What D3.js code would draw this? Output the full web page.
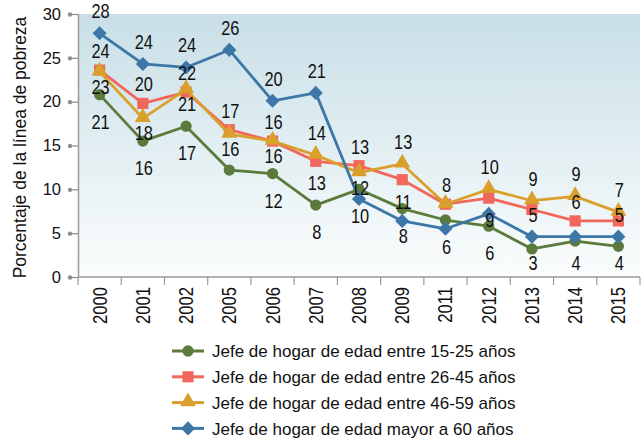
<!DOCTYPE html>
<html>
<head>
<meta charset="utf-8">
<script src="https://cdn.jsdelivr.net/npm/d3@7"></script>
<style>
  body { margin: 0; background: #fff; }
  text { font-family: "Liberation Sans", Arial, sans-serif; fill: #111; }
</style>
</head>
<body>
<div id="chart"></div>
<script>
// categories (survey years)
const years = ["2000","2001","2002","2005","2006","2007","2008","2009","2011","2012","2013","2014","2015"]

// series values (% under poverty line)
const age15_25 = [20.8, 15.5, 17.2, 12.2, 11.8, 8.2, 10.0, 7.8, 6.5, 5.8, 3.2, 4.1, 3.5]
const age26_45 = [23.6, 19.8, 21.1, 16.8, 15.5, 13.2, 12.7, 11.1, 8.3, 9.0, 7.7, 6.4, 6.4]
const age46_59 = [23.4, 18.1, 21.4, 16.3, 15.5, 13.9, 11.9, 12.9, 8.3, 10.0, 8.7, 9.2, 7.4]
const age60up  = [27.8, 24.3, 23.9, 25.9, 20.1, 21.0, 8.9, 6.4, 5.5, 7.2, 4.6, 4.6, 4.6]

// data labels as printed on the chart (null = not shown)
const lbl15_25 = ["21","16","17",null,"12","8","10","8","6","6","3","4","4"]
const lbl26_45 = ["24","20","22","17","16","13","13","11","8","9",null,"6",null]
const lbl46_59 = ["23","18","21","16","16","14","12","13",null,"10","9","9","7"]
const lbl60up  = ["28","24","24","26","20","21",null,null,null,null,"5",null,"5"]

// which side of the marker each label sits (a = above, b = below)
const side15_25 = "bbbbbbbbbbbbb".split("")
const side26_45 = "aaaaabababaaa".split("")
const side46_59 = "bbbbbabaaaaaa".split("")
const side60up  = "aaaaaaaaaaaaa".split("")

const yTicks = [0, 5, 10, 15, 20, 25, 30]
const names = [
  "Jefe de hogar de edad entre 15-25 años",
  "Jefe de hogar de edad entre 26-45 años",
  "Jefe de hogar de edad entre 46-59 años",
  "Jefe de hogar de edad mayor a 60 años"
]

const series = [
  { name: names[0], values: age15_25, labels: lbl15_25, sides: side15_25, color: "#5b7b3d", shape: "circle",   off: { a: -20, b: 27 } },
  { name: names[1], values: age26_45, labels: lbl26_45, sides: side26_45, color: "#f2675c", shape: "square",   off: { a: -19, b: 22 } },
  { name: names[2], values: age46_59, labels: lbl46_59, sides: side46_59, color: "#daa02c", shape: "triangle", off: { a: -22, b: 15 } },
  { name: names[3], values: age60up,  labels: lbl60up,  sides: side60up,  color: "#3c77a8", shape: "diamond",  off: { a: -22, b: 22 } }
]

const config = {
  width: 642,
  height: 441,
  margin: { top: 14, right: 2, bottom: 164, left: 78 }
}
const { width, height, margin } = config
const w = width - margin.left - margin.right
const h = height - margin.top - margin.bottom

const x = d3.scaleBand().domain(years).range([0, w])
const y = d3.scaleLinear().domain([0, 30]).range([h, 0])
const cx = d => x(d) + x.bandwidth() / 2

const svg = d3.select("#chart").append("svg")
  .attr("width", width)
  .attr("height", height)

// plot background gradient
const grad = svg.append("defs").append("linearGradient")
  .attr("id", "bg").attr("x1", 0).attr("y1", 0).attr("x2", 0).attr("y2", 1)
grad.append("stop").attr("offset", "0%").attr("stop-color", "#c8dfe7")
grad.append("stop").attr("offset", "100%").attr("stop-color", "#fbfdfd")

const g = svg.append("g")
  .attr("transform", `translate(${margin.left},${margin.top})`)

g.append("rect")
  .attr("width", w).attr("height", h)
  .attr("fill", "url(#bg)")

// y axis: dotted-end ticks
const yAxis = g.append("g")
  .call(d3.axisLeft(y).tickValues(yTicks).tickSize(8).tickPadding(9).tickSizeOuter(0))
yAxis.select(".domain").attr("stroke", "#9a9a9a").attr("stroke-width", 1.5)
yAxis.selectAll(".tick line").attr("stroke", "#8e8e8e").attr("stroke-width", 1.2)
yAxis.selectAll(".tick").append("circle")
  .attr("cx", -8).attr("r", 2.2).attr("fill", "#8e8e8e")
yAxis.selectAll(".tick text")
  .style("font-size", "16.5px")
  .style("font-family", "'Liberation Sans', Arial, sans-serif")
  .attr("fill", "#111")

// x axis line and category boundary ticks
g.append("line")
  .attr("x1", 0).attr("x2", w).attr("y1", h).attr("y2", h)
  .attr("stroke", "#9a9a9a").attr("stroke-width", 1.5)
g.selectAll(".xtick")
  .data(years.map(d => x(d)).concat([w]))
  .enter().append("line")
  .attr("class", "xtick")
  .attr("x1", d => d).attr("x2", d => d)
  .attr("y1", h).attr("y2", h + 8)
  .attr("stroke", "#9a9a9a").attr("stroke-width", 1.2)

// rotated year labels (narrow look)
g.selectAll(".xlabel")
  .data(years)
  .enter().append("text")
  .attr("class", "xlabel")
  .attr("transform", d => `translate(${cx(d)},${h + 10}) rotate(-90) scale(0.83,1)`)
  .attr("text-anchor", "end")
  .attr("dy", "0.35em")
  .style("font-size", "20px")
  .text(d => d)

// y axis title
svg.append("text")
  .attr("transform", `translate(26,${margin.top + h / 2 + 2}) rotate(-90)`)
  .attr("text-anchor", "middle")
  .style("font-size", "17.5px")
  .text("Porcentaje de la línea de pobreza")

// marker shapes
function markerPath(shape) {
  if (shape === "circle") return d3.symbol(d3.symbolCircle, 100)()
  if (shape === "square") return d3.symbol(d3.symbolSquare, 125)()
  if (shape === "triangle") return d3.symbol(d3.symbolTriangle, 110)()
  return d3.symbol(d3.symbolSquare, 100)()
}
const markerRot = shape => shape === "diamond" ? " rotate(45)" : ""

const line = d3.line()
  .x(d => cx(d.year))
  .y(d => y(d.value))

series.forEach(s => {
  const pts = years.map((yr, i) => ({ year: yr, value: s.values[i], label: s.labels[i], side: s.sides[i] }))

  g.append("path")
    .datum(pts)
    .attr("fill", "none")
    .attr("stroke", s.color)
    .attr("stroke-width", 2.8)
    .attr("stroke-linejoin", "round")
    .attr("d", line)

  g.selectAll(null)
    .data(pts)
    .enter().append("path")
    .attr("d", markerPath(s.shape))
    .attr("transform", d => `translate(${cx(d.year)},${y(d.value) + (s.shape === "triangle" ? -1 : 0)})${markerRot(s.shape)}`)
    .attr("fill", s.color)
})

// data labels drawn after all lines
series.forEach(s => {
  const pts = years.map((yr, i) => ({ year: yr, value: s.values[i], label: s.labels[i], side: s.sides[i] }))
    .filter(d => d.label !== null)
  g.selectAll(null)
    .data(pts)
    .enter().append("text")
    .attr("transform", d => {
      const ly = Math.min(y(d.value) + s.off[d.side], h - 14)
      return `translate(${cx(d.year) + 1},${ly}) scale(0.84,1)`
    })
    .attr("text-anchor", "middle")
    .attr("dy", "0.36em")
    .style("font-size", "19.5px")
    .text(d => d.label)
})

// legend
const legend = svg.append("g")
  .attr("transform", "translate(172,351)")
const rows = legend.selectAll("g")
  .data(series)
  .enter().append("g")
  .attr("transform", (d, i) => `translate(0,${i * 25.8})`)
rows.append("line")
  .attr("x1", 0).attr("x2", 32)
  .attr("stroke", d => d.color)
  .attr("stroke-width", 3)
rows.append("path")
  .attr("d", d => markerPath(d.shape))
  .attr("transform", d => `translate(16,${d.shape === "triangle" ? -1 : 0})${markerRot(d.shape)}`)
  .attr("fill", d => d.color)
rows.append("text")
  .attr("x", 40)
  .attr("dy", "0.36em")
  .style("font-size", "17px")
  .text(d => d.name)
</script>
</body>
</html>
